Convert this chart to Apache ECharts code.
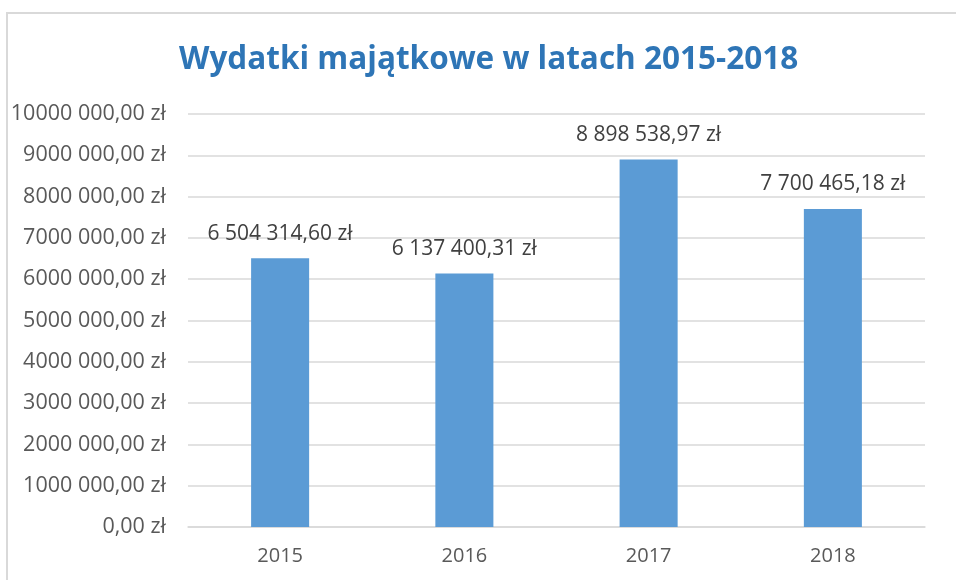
<!DOCTYPE html>
<html>
<head>
<meta charset="utf-8">
<script src="https://cdn.jsdelivr.net/npm/echarts@6/dist/echarts.min.js"></script>
<style>
  html, body { margin: 0; padding: 0; background: #fff; }
  #chart { width: 956px; height: 580px; }
</style>
</head>
<body>
<div id="chart"></div>
<script>
let years = ['2015', '2016', '2017', '2018'];
let wydatki = [6504314.60, 6137400.31, 8898538.97, 7700465.18];
let yTicks = [0, 1000000, 2000000, 3000000, 4000000, 5000000, 6000000, 7000000, 8000000, 9000000, 10000000];

function formatZl(v) {
	let parts = v.toFixed(2).split('.');
	let intPart = parts[0].replace(/\B(?=(\d{3})+(?!\d))/g, ' ');
	return intPart + ',' + parts[1] + ' zł';
}

function formatTick(v) {
	if(v === 0) {
		return '0,00 zł';
	}
	return (v / 1000) + ' 000,00 zł';
}

let myChart = echarts.init(document.getElementById('chart'));

let option = {
	backgroundColor: '#fff',
	animation: false,
	title: {
		text: 'Wydatki majątkowe w latach 2015-2018',
		left: 174,
		top: 39,
		textStyle: {
			color: '#2E75B6',
			fontSize: 31.5,
			fontWeight: 'bold',
			fontFamily: 'Open Sans'
		}
	},
	graphic: [
		{
			type: 'rect',
			shape: { x: 7, y: 13, width: 1000, height: 700 },
			style: { fill: 'none', stroke: '#d9d9d9', lineWidth: 2 },
			silent: true
		}
	],
	grid: {
		left: 188,
		right: 31,
		top: 114,
		bottom: 53
	},
	xAxis: {
		type: 'category',
		data: years,
		axisLine: { show: true, lineStyle: { color: '#d9d9d9', width: 1.5 } },
		axisTick: { show: false },
		axisLabel: {
			color: '#595959',
			fontSize: 20,
			fontFamily: 'Open Sans',
			margin: 19
		}
	},
	yAxis: {
		type: 'value',
		min: yTicks[0],
		max: yTicks[yTicks.length - 1],
		interval: 1000000,
		axisLine: { show: false },
		axisTick: { show: false },
		splitLine: { lineStyle: { color: '#d9d9d9', width: 1.5 } },
		axisLabel: {
			color: '#595959',
			fontSize: 21.5,
			fontFamily: 'Open Sans',
			margin: 22,
			formatter: formatTick
		}
	},
	series: [
		{
			type: 'bar',
			data: wydatki,
			barWidth: '31.5%',
			itemStyle: { color: '#5B9BD5' },
			label: {
				show: true,
				position: 'top',
				distance: 14,
				color: '#404040',
				fontSize: 21,
				fontFamily: 'Open Sans',
				formatter: function(p) {
					return formatZl(p.value);
				}
			}
		}
	]
};

myChart.setOption(option);
</script>
</body>
</html>
